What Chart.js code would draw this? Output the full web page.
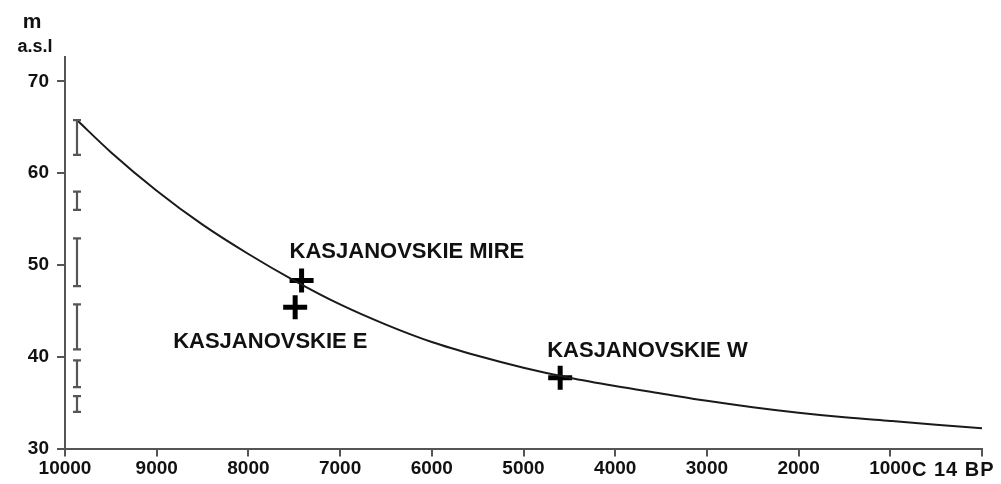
<!DOCTYPE html>
<html>
<head>
<meta charset="utf-8">
<script src="https://cdn.jsdelivr.net/npm/chart.js@4/dist/chart.umd.min.js"></script>
<style>
  html, body { margin: 0; padding: 0; background: #fff; }
  #wrap { width: 1001px; height: 484px; position: relative; }
</style>
</head>
<body>
<div id="wrap"><canvas id="c" width="1001" height="484"></canvas></div>
<script>
// Shoreline displacement curve (radiocarbon years BP -> metres above sea level)
const curveYears  = [9870, 9500, 9000, 8500, 8000, 7500, 7000, 6500, 6000, 5500, 5000, 4500, 4000, 3500, 3000, 2500, 2000, 1500, 1000, 500, 0];
const curveLevels = [65.8, 62.3, 58.1, 54.4, 51.2, 48.3, 45.7, 43.5, 41.6, 40.1, 38.8, 37.7, 36.8, 36.0, 35.2, 34.5, 33.9, 33.4, 33.0, 32.6, 32.2];

// Dated sites
const siteNames  = ['KASJANOVSKIE MIRE', 'KASJANOVSKIE E', 'KASJANOVSKIE W'];
const siteYears  = [7420, 7490, 4600];
const siteLevels = [48.3, 45.4, 37.7];

// Elevation ranges of older shore marks
const rangeYears = [9870, 9870, 9870, 9870, 9870, 9870];
const rangeLow   = [62.0, 56.0, 47.7, 40.8, 36.7, 34.0];
const rangeHigh  = [65.8, 58.0, 52.9, 45.7, 39.6, 35.7];

// Axis ticks
const xTicks = [10000, 9000, 8000, 7000, 6000, 5000, 4000, 3000, 2000, 1000, 0];
const yTicks = [30, 40, 50, 60, 70];
const xUnitLabel = 'C 14 BP';
const yUnitLabel = ['m', 'a.s.l'];

const FONT = '"Liberation Sans", Arial, sans-serif';
const AXIS = '#555';

// label placement relative to each cross (left edge, baseline)
const labelOffsets = [[-12, -23], [-122, 41], [-13, -21]];

const overlay = {
  id: 'overlay',
  afterDatasetsDraw(chart) {
    const ctx = chart.ctx;
    const xs = chart.scales.x, ys = chart.scales.y;
    ctx.save();
    // range bars with caps
    ctx.strokeStyle = AXIS;
    ctx.lineWidth = 2.2;
    rangeYears.forEach((yr, i) => {
      const x = Math.round(xs.getPixelForValue(yr));
      const y1 = ys.getPixelForValue(rangeHigh[i]);
      const y2 = ys.getPixelForValue(rangeLow[i]);
      ctx.beginPath();
      ctx.moveTo(x, y1); ctx.lineTo(x, y2);
      ctx.moveTo(x - 4, y1); ctx.lineTo(x + 4, y1);
      ctx.moveTo(x - 4, y2); ctx.lineTo(x + 4, y2);
      ctx.stroke();
    });
    // site names
    ctx.fillStyle = '#111';
    ctx.font = 'bold 22px ' + FONT;
    ctx.textAlign = 'left';
    ctx.textBaseline = 'alphabetic';
    siteNames.forEach((name, i) => {
      const px = xs.getPixelForValue(siteYears[i]);
      const py = ys.getPixelForValue(siteLevels[i]);
      ctx.fillText(name, px + labelOffsets[i][0], py + labelOffsets[i][1]);
    });
    // axis unit labels
    ctx.font = 'bold 20px ' + FONT;
    if ('letterSpacing' in ctx) ctx.letterSpacing = '1px';
    ctx.fillText(xUnitLabel, xs.getPixelForValue(0) - 70, 476);
    if ('letterSpacing' in ctx) ctx.letterSpacing = '0px';
    ctx.textAlign = 'center';
    ctx.font = 'bold 21px ' + FONT;
    ctx.fillText(yUnitLabel[0], 32, 28);
    ctx.font = 'bold 18px ' + FONT;
    ctx.fillText(yUnitLabel[1], 35, 52);
    ctx.restore();
  }
};

const yMin = 30, yMax = 72.67;

new Chart(document.getElementById('c'), {
  type: 'line',
  data: {
    datasets: [
      {
        label: 'curve',
        data: curveYears.map((x, i) => ({ x, y: curveLevels[i] })),
        borderColor: '#1a1a1a',
        borderWidth: 2,
        pointRadius: 0,
        cubicInterpolationMode: 'monotone',
        fill: false
      },
      {
        label: 'sites',
        data: siteYears.map((x, i) => ({ x, y: siteLevels[i] })),
        showLine: false,
        pointStyle: 'cross',
        pointRadius: 12,
        pointBorderWidth: 5,
        pointBorderColor: '#000',
        pointBackgroundColor: '#000'
      }
    ]
  },
  options: {
    responsive: false,
    animation: false,
    devicePixelRatio: 1,
    layout: { padding: { left: 0, right: 19, top: 57, bottom: 0 } },
    plugins: { legend: { display: false }, tooltip: { enabled: false } },
    scales: {
      x: {
        type: 'linear',
        reverse: true,
        min: 0,
        max: 10000,
        afterBuildTicks(scale) { scale.ticks = xTicks.map(v => ({ value: v })); },
        afterFit(scale) { scale.height = 35.5; },
        grid: { drawOnChartArea: false, drawTicks: true, tickLength: 8, color: AXIS, lineWidth: 2 },
        border: { color: AXIS, width: 2 },
        ticks: {
          autoSkip: false,
          maxRotation: 0,
          padding: 1,
          color: '#111',
          font: { family: FONT, size: 19, weight: 'bold' },
          callback: v => (v === 0 ? '' : String(v))
        }
      },
      y: {
        type: 'linear',
        min: yMin,
        max: yMax,
        afterBuildTicks(scale) { scale.ticks = yTicks.map(v => ({ value: v })); },
        afterFit(scale) { scale.width = 65; },
        grid: { drawOnChartArea: false, drawTicks: true, tickLength: 8, color: AXIS, lineWidth: 2 },
        border: { color: AXIS, width: 2 },
        ticks: {
          padding: 8,
          color: '#111',
          font: { family: FONT, size: 19, weight: 'bold' }
        }
      }
    }
  },
  plugins: [overlay]
});
</script>
</body>
</html>
